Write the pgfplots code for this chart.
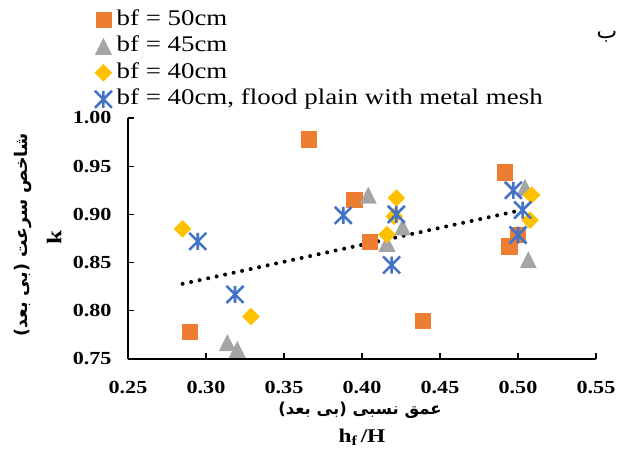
\documentclass[border=0pt]{standalone}
\usepackage{fontspec}
\usepackage{pgfplots}
\pgfplotsset{compat=1.18}
\setmainfont{Liberation Serif}[FakeStretch=1.2]
\newfontfamily\fa[Script=Arabic]{DejaVu Sans}
\TeXXeTstate=1
\definecolor{cO}{HTML}{ED7D31}
\definecolor{cG}{HTML}{A5A5A5}
\definecolor{cY}{HTML}{FFC000}
\definecolor{cB}{HTML}{4472C4}
\pgfdeclareplotmark{xstar}{%
  \pgfpathmoveto{\pgfqpoint{0pt}{\pgfplotmarksize}}%
  \pgfpathlineto{\pgfqpoint{0pt}{-\pgfplotmarksize}}%
  \pgfpathmoveto{\pgfqpoint{-\pgfplotmarksize}{\pgfplotmarksize}}%
  \pgfpathlineto{\pgfqpoint{\pgfplotmarksize}{-\pgfplotmarksize}}%
  \pgfpathmoveto{\pgfqpoint{-\pgfplotmarksize}{-\pgfplotmarksize}}%
  \pgfpathlineto{\pgfqpoint{\pgfplotmarksize}{\pgfplotmarksize}}%
  \pgfusepathqstroke}
\pgfdeclareplotmark{xtri}{%
  \pgfpathmoveto{\pgfqpoint{0pt}{\pgfplotmarksize}}%
  \pgfpathlineto{\pgfqpoint{-\pgfplotmarksize}{-\pgfplotmarksize}}%
  \pgfpathlineto{\pgfqpoint{\pgfplotmarksize}{-\pgfplotmarksize}}%
  \pgfpathclose
  \pgfusepathqfill}
\begin{document}
\begin{tikzpicture}
\path[use as bounding box] (0,0) rectangle (617bp,454bp);
\begin{axis}[
  at={(128bp,95bp)}, anchor=south west,
  scale only axis, width=468bp, height=241bp,
  xmin=0.25, xmax=0.55, ymin=0.75, ymax=1.0,
  axis x line=bottom, axis y line=left,
  axis line style={line width=1.5bp,-},
  tick align=inside, major tick length=6bp,
  tick style={line width=1.2bp,black},
  xtick={0.25,0.30,0.35,0.40,0.45,0.50,0.55},
  xticklabels={0.25,0.30,0.35,0.40,0.45,0.50,0.55},
  ytick={0.75,0.80,0.85,0.90,0.95,1.00},
  yticklabels={0.75,0.80,0.85,0.90,0.95,1.00},
  tick label style={font=\bfseries\fontsize{18.5}{20}\selectfont},
  xticklabel style={yshift=-19bp},
  yticklabel style={xshift=-13bp},
  clip=false,
  legend style={at={(axis description cs:-0.0726,1.452)}, anchor=north west,
    draw=none, fill=none, inner sep=0pt, row sep=5.5bp,
    nodes={inner sep=0pt, text height=16bp, text depth=5bp},
    font=\fontsize{22.5}{24}\selectfont},
  legend cell align=left,
  legend image code/.code={\draw[mark repeat=2,mark phase=2] plot coordinates {(-8bp,0bp)(0bp,0bp)(8bp,0bp)}; \path (-9bp,0bp) (13bp,0bp);},
]
\addplot[only marks, mark=square*, mark size=7.6bp, color=cO] coordinates {
(0.2897,0.778) (0.3656,0.978) (0.395,0.915) (0.405,0.872) (0.439,0.790) (0.4917,0.9437) (0.4944,0.867) (0.500,0.879)};
\addlegendentry{bf = 50cm}
\addplot[only marks, mark=xtri, mark size=8.5bp, color=cG] coordinates {
(0.3137,0.767) (0.320,0.760) (0.404,0.920) (0.416,0.870) (0.426,0.887) (0.5045,0.928) (0.5066,0.853)};
\addlegendentry{bf = 45cm}
\addplot[only marks, mark=square*, mark size=6bp, mark options={rotate=45}, color=cY] coordinates {
(0.285,0.885) (0.3288,0.794) (0.416,0.879) (0.4207,0.898) (0.422,0.917) (0.5077,0.894) (0.5087,0.920)};
\addlegendentry{bf = 40cm}
\addplot[only marks, mark=xstar, mark size=8.5bp, mark options={line width=2.6bp}, color=cB] coordinates {
(0.2947,0.872) (0.3186,0.817) (0.388,0.899) (0.419,0.8475) (0.422,0.900) (0.497,0.925) (0.500,0.8786) (0.503,0.9045)};
\addlegendentry{bf = 40cm, flood plain with metal mesh}
\addplot[forget plot, black, line width=4bp, line cap=round, dash pattern=on 0bp off 8.7bp] coordinates {(0.285,0.828) (0.5055,0.9056)};
\node[rotate=90, font=\fa\bfseries\fontsize{17.5}{20}\selectfont] at (axis description cs:-0.2244,0.5145) {\beginR شاخص سرعت (بی بعد)\endR};
\node[rotate=90, font=\bfseries\fontsize{21}{24}\selectfont] at (axis description cs:-0.158,0.506) {k};
\node[font=\fa\bfseries\fontsize{16.5}{20}\selectfont] at (axis description cs:0.4957,-0.2116) {\beginR عمق نسبی (بی بعد)\endR};
\node[font=\bfseries\fontsize{19.5}{22}\selectfont] at (axis description cs:0.5,-0.3237) {h\textsubscript{f}\,/H};
\end{axis}
\node[inner sep=0pt, font=\fa\fontsize{22}{24}\selectfont] at (607bp,417bp) {ب};
\end{tikzpicture}
\end{document}
